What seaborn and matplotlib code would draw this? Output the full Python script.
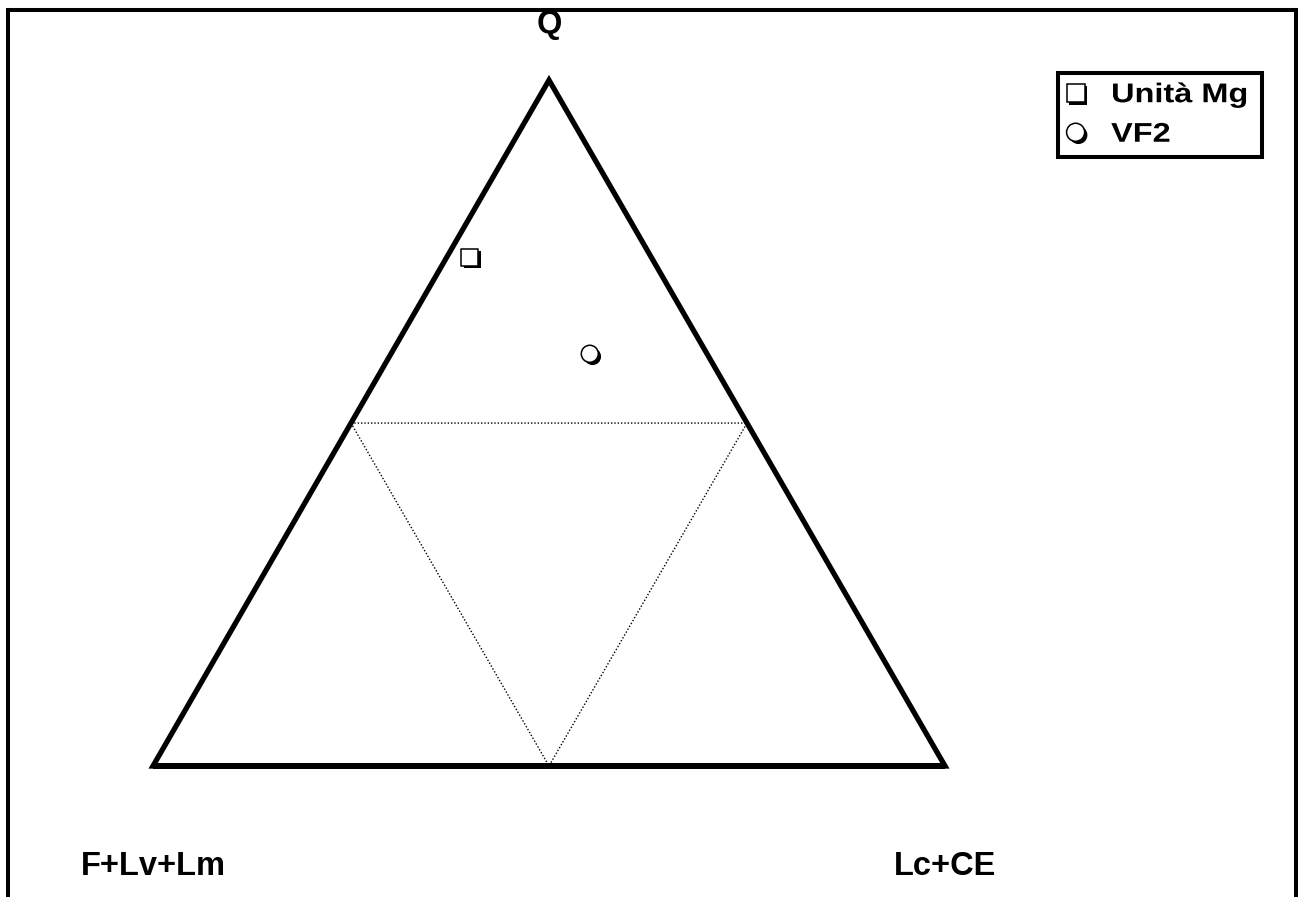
import numpy as np
import pandas as pd
import seaborn as sns
import matplotlib
matplotlib.use("Agg")
import matplotlib.pyplot as plt
from matplotlib import patheffects
from matplotlib.patches import Rectangle
from matplotlib.transforms import Affine2D

# Ternary composition (percent) of the two samples: Q, F+Lv+Lm, Lc+CE
samples = ["Unità Mg", "VF2"]
q_pct = [74.2, 60.1]
f_pct = [22.9, 14.8]
l_pct = [2.9, 25.1]

apex_labels = ["Q", "F+Lv+Lm", "Lc+CE"]

W, H, DPI = 1298, 897, 100

sns.set_style("white")
plt.rcParams["font.family"] = ["Liberation Sans", "DejaVu Sans"]
plt.rcParams["font.weight"] = "bold"
plt.rcParams["text.color"] = "black"


def to_xy(q, f, l):
    """Convert ternary percentages to cartesian coordinates of a unit triangle."""
    q = np.asarray(q, float) / 100.0
    l = np.asarray(l, float) / 100.0
    return l + q / 2.0, q * np.sqrt(3) / 2.0


class HStretch(patheffects.AbstractPathEffect):
    """Widen glyph outlines horizontally about the text origin."""

    def __init__(self, sx):
        super().__init__()
        self.sx = sx

    def draw_path(self, renderer, gc, tpath, affine, rgbFace=None):
        renderer.draw_path(gc, tpath, Affine2D().scale(self.sx, 1.0) + affine, rgbFace)


fig = plt.figure(figsize=(W / DPI, H / DPI), dpi=DPI)
ax = fig.add_axes([0, 0, 1, 1])
ax.set_axis_off()

# one data unit = 792 px, triangle base from x=153 px, baseline at y=766 px
scale = 792.0
ax.set_xlim(-153 / scale, (W - 153) / scale)
ax.set_ylim((766 - H) / scale, 766 / scale)

h = np.sqrt(3) / 2
# outer triangle
tri_x = [0, 1, 0.5, 0, 1]
tri_y = [0, 0, h, 0, 0]
ax.plot(tri_x, tri_y, color="black", lw=3.8, solid_joinstyle="miter",
        solid_capstyle="butt")

# dotted medial triangle
mid_x = [0.25, 0.75, 0.5, 0.25]
mid_y = [h / 2, h / 2, 0, h / 2]
ax.plot(mid_x, mid_y, color="black", lw=1.0, linestyle=(0, (1, 1.4)))

# samples
x, y = to_xy(q_pct, f_pct, l_pct)
df = pd.DataFrame({"x": x, "y": y, "sample": samples})
sns.scatterplot(data=df, x="x", y="y", style="sample",
                markers={"Unità Mg": "s", "VF2": "o"},
                color="white", edgecolor="black", linewidth=1.1, s=150,
                ax=ax, zorder=5)
ax.set_xlabel("")
ax.set_ylabel("")

shadow = [patheffects.SimplePatchShadow(offset=(2.0, -2.0), shadow_rgbFace="black",
                                        alpha=1.0),
          patheffects.Normal()]
for coll in ax.collections:
    coll.set_path_effects(shadow)

# apex labels
lab_kw = dict(fontsize=23.5, fontweight="bold", color="black", ha="center",
              va="baseline")
ax.text(0.5, (766 - 33) / scale, apex_labels[0], **lab_kw)
ax.text(0.0, (766 - 875) / scale, apex_labels[1], **lab_kw)
ax.text(1.0, (766 - 875) / scale, apex_labels[2], **lab_kw)

# legend
handles, labels = ax.get_legend_handles_labels()
leg = ax.legend(handles, labels, loc="upper left",
                bbox_to_anchor=(1058 / W, 1 - 73 / H, 204 / W, 0),
                bbox_transform=fig.transFigure, mode="expand",
                borderaxespad=0, borderpad=0.34, handlelength=0.62,
                handletextpad=1.0, labelspacing=0.5, fancybox=False,
                framealpha=1, edgecolor="black", labelcolor="black",
                prop=dict(family="Liberation Sans", weight="bold", size=19.5))
leg.get_frame().set_linewidth(2.9)
for hd in leg.legend_handles:
    hd.set_path_effects(shadow)
    hd.set_markersize(13)
for t in leg.get_texts():
    t.set_path_effects([HStretch(1.2)])

# outer frame, open at the bottom edge of the image
frame = Rectangle((8 / W, -20 / H), (1296 - 8) / W, (H - 10 + 20) / H,
                  transform=fig.transFigure, fill=False, edgecolor="black",
                  lw=2.9, joinstyle="miter")
fig.add_artist(frame)

fig.savefig("out.png", dpi=DPI, facecolor="white")
